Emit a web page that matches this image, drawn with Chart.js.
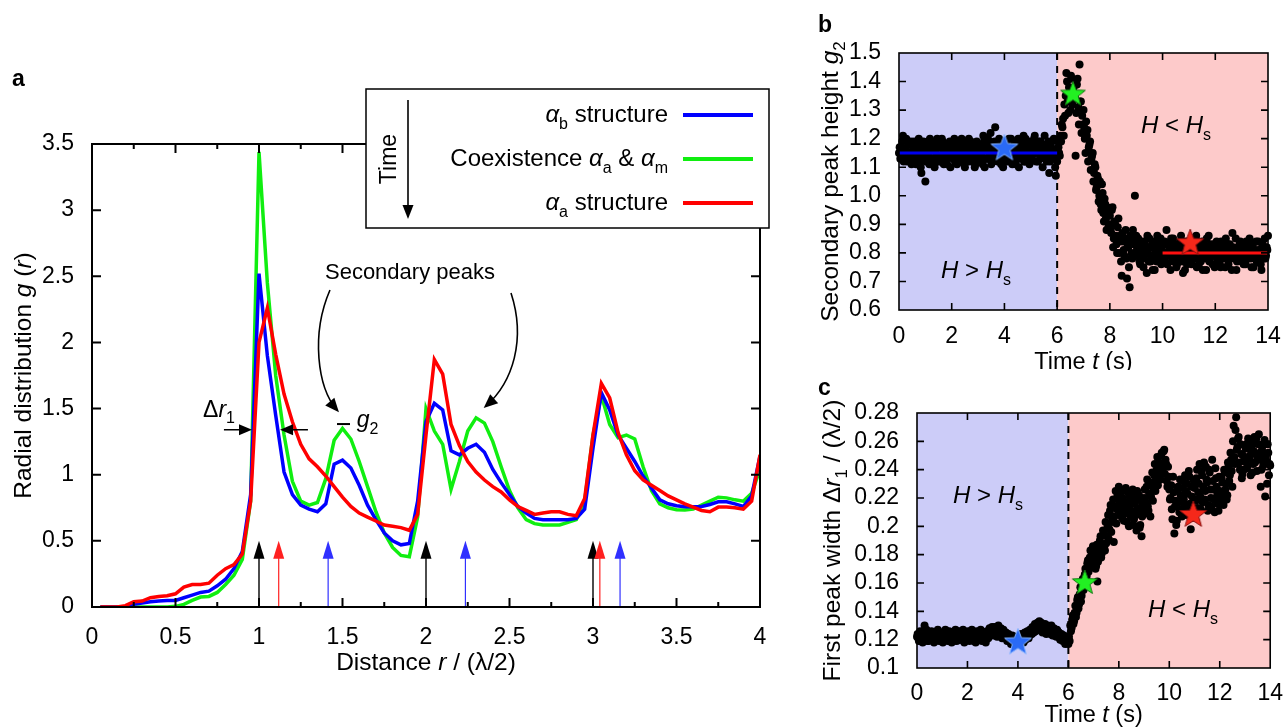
<!DOCTYPE html>
<html>
<head>
<meta charset="utf-8">
<script src="https://cdn.jsdelivr.net/npm/chart.js@4.4.1/dist/chart.umd.min.js"></script>
<style>
  body { margin: 0; background: #fff; width: 1287px; height: 728px; position: relative; overflow: hidden; }
  canvas { position: absolute; }
</style>
</head>
<body>
<canvas id="chartA" width="790" height="690" style="left:0;top:0"></canvas>
<canvas id="chartB" width="487" height="370" style="left:800px;top:0"></canvas>
<canvas id="chartC" width="487" height="358" style="left:800px;top:370px"></canvas>
<script>
// ---- panel a : radial distribution ----
const distance = [
  0.05, 0.10, 0.15, 0.20, 0.25, 0.30, 0.35, 0.40, 0.45, 0.50, 0.55, 0.60, 0.65, 0.70, 0.75, 0.80, 0.85, 0.90, 0.95, 1.00,
  1.05, 1.10, 1.15, 1.20, 1.25, 1.30, 1.35, 1.40, 1.45, 1.50, 1.55, 1.60, 1.65, 1.70, 1.75, 1.80, 1.85, 1.90, 1.95, 2.00,
  2.05, 2.10, 2.15, 2.20, 2.25, 2.30, 2.35, 2.40, 2.45, 2.50, 2.55, 2.60, 2.65, 2.70, 2.75, 2.80, 2.85, 2.90, 2.95, 3.00,
  3.05, 3.10, 3.15, 3.20, 3.25, 3.30, 3.35, 3.40, 3.45, 3.50, 3.55, 3.60, 3.65, 3.70, 3.75, 3.80, 3.85, 3.90, 3.95, 4.00
];
const gAlphaB = [
  0, 0, 0, 0, 0.02, 0.03, 0.04, 0.045, 0.05, 0.05, 0.07, 0.09, 0.11, 0.12, 0.16, 0.21, 0.29, 0.42, 0.85, 2.52,
  1.90, 1.45, 1.02, 0.85, 0.77, 0.74, 0.72, 0.78, 1.08, 1.11, 1.05, 0.92, 0.77, 0.66, 0.56, 0.50, 0.47, 0.48, 0.80, 1.40,
  1.54, 1.49, 1.18, 1.15, 1.20, 1.23, 1.17, 1.04, 0.94, 0.85, 0.76, 0.71, 0.67, 0.66, 0.66, 0.66, 0.66, 0.67, 0.74, 1.20,
  1.62, 1.49, 1.30, 1.20, 1.10, 0.99, 0.90, 0.81, 0.78, 0.765, 0.758, 0.758, 0.76, 0.775, 0.795, 0.795, 0.78, 0.76, 0.84, 1.14
];
const gCoexist = [
  0, 0, 0, 0, 0, 0, 0, 0, 0, 0.005, 0.02, 0.05, 0.075, 0.08, 0.11, 0.17, 0.24, 0.36, 0.80, 3.44,
  2.45, 1.75, 1.30, 0.95, 0.80, 0.77, 0.79, 0.97, 1.26, 1.35, 1.27, 1.10, 0.91, 0.72, 0.56, 0.45, 0.39, 0.38, 0.68, 1.50,
  1.33, 1.23, 0.89, 1.10, 1.33, 1.43, 1.39, 1.25, 1.06, 0.88, 0.75, 0.66, 0.63, 0.62, 0.62, 0.62, 0.64, 0.66, 0.80, 1.30,
  1.60, 1.38, 1.28, 1.30, 1.27, 1.06, 0.88, 0.78, 0.75, 0.735, 0.733, 0.74, 0.77, 0.80, 0.83, 0.825, 0.81, 0.80, 0.86, 1.04
];
const gAlphaA = [
  0, 0, 0, 0.01, 0.04, 0.045, 0.07, 0.08, 0.085, 0.10, 0.15, 0.17, 0.17, 0.18, 0.24, 0.29, 0.32, 0.40, 0.80, 2.00,
  2.26, 1.91, 1.61, 1.40, 1.23, 1.12, 1.06, 0.99, 0.91, 0.83, 0.76, 0.71, 0.68, 0.65, 0.62, 0.61, 0.60, 0.58, 0.70, 1.30,
  1.87, 1.76, 1.38, 1.22, 1.10, 1.02, 0.96, 0.91, 0.87, 0.81, 0.76, 0.73, 0.70, 0.71, 0.72, 0.72, 0.70, 0.69, 0.82, 1.30,
  1.69, 1.58, 1.32, 1.15, 1.03, 0.96, 0.92, 0.88, 0.84, 0.81, 0.78, 0.755, 0.73, 0.72, 0.755, 0.755, 0.75, 0.74, 0.80, 1.15
];
// lattice distances marked by the small arrows
const latticeR = [1.0, 1.118, 1.414, 2.0, 2.236, 3.0, 3.041, 3.162];
const latticeColor = ['#000', '#ff2020', '#3030ff', '#000', '#3030ff', '#000', '#ff2020', '#3030ff'];

// ---- panels b and c : time series ----
// main frames every 0.05 s starting at 0, in-between frames starting at 0.025 s
const frameStep = 0.05;
const peakHeightG2 = [
  1.15, 1.13, 1.17, 1.21, 1.14, 1.16, 1.12, 1.18, 1.15, 1.19, 1.13, 1.16, 1.14, 1.11, 1.17, 1.20, 1.12, 1.08, 1.15, 1.18,
  1.05, 1.14, 1.19, 1.11, 1.16, 1.13, 1.18, 1.10, 1.15, 1.20, 1.12, 1.17, 1.14, 1.19, 1.11, 1.16, 1.13, 1.18, 1.15, 1.10,
  1.17, 1.13, 1.20, 1.14, 1.11, 1.18, 1.15, 1.12, 1.19, 1.16, 1.10, 1.17, 1.13, 1.20, 1.15, 1.12, 1.18, 1.14, 1.11, 1.19,
  1.16, 1.12, 1.18, 1.14, 1.21, 1.10, 1.17, 1.13, 1.19, 1.15, 1.11, 1.18, 1.14, 1.24, 1.16, 1.12, 1.20, 1.13, 1.17, 1.10,
  1.15, 1.19, 1.12, 1.17, 1.14, 1.20, 1.11, 1.16, 1.13, 1.18, 1.15, 1.10, 1.19, 1.14, 1.17, 1.12, 1.20, 1.13, 1.16, 1.11,
  1.18, 1.14, 1.17, 1.21, 1.12, 1.15, 1.19, 1.13, 1.16, 1.10, 1.18, 1.14, 1.12, 1.17, 1.08, 1.15, 1.19, 1.13, 1.16, 1.07,
  1.12, 1.17, 1.14, 1.19, 1.24, 1.21, 1.28, 1.43, 1.33, 1.38, 1.30, 1.41, 1.36, 1.34, 1.14, 1.39, 1.31, 1.46, 1.33, 1.28,
  1.30, 1.20, 1.26, 1.23, 1.17, 1.19, 1.13, 1.15, 1.08, 1.10, 1.03, 1.06, 1.00, 0.97, 1.04, 0.94, 0.99, 0.92, 0.96, 0.89,
  0.93, 0.87, 0.96, 0.85, 0.90, 0.83, 0.89, 0.80, 0.86, 0.72, 0.84, 0.79, 0.88, 0.71, 0.82, 0.68, 0.85, 0.78, 0.83, 1.00,
  0.86, 0.79, 0.83, 0.76, 0.81, 0.84, 0.78, 0.82, 0.73, 0.80, 0.85, 0.77, 0.83, 0.79, 0.74, 0.81, 0.86, 0.78, 0.82, 0.76,
  0.80, 0.83, 0.77, 0.88, 0.79, 0.82, 0.74, 0.81, 0.85, 0.78, 0.80, 0.76, 0.83, 0.79, 0.86, 0.77, 0.81, 0.74, 0.84, 0.80,
  0.78, 0.82, 0.76, 0.85, 0.79, 0.81, 0.75, 0.83, 0.80, 0.77, 0.84, 0.79, 0.82, 0.74, 0.80, 0.86, 0.78, 0.81, 0.76, 0.83,
  0.79, 0.84, 0.77, 0.81, 0.75, 0.82, 0.80, 0.78, 0.85, 0.79, 0.76, 0.83, 0.80, 0.87, 0.78, 0.81, 0.74, 0.82, 0.79, 0.84,
  0.77, 0.80, 0.83, 0.76, 0.81, 0.79, 0.85, 0.78, 0.82, 0.75, 0.80, 0.84, 0.77, 0.81, 0.79, 0.74, 0.83, 0.80, 0.78, 0.82,
  0.86
];
const peakHeightG2Mid = [
  1.17, 1.14, 1.19, 1.12, 1.16, 1.20, 1.13, 1.15, 1.18, 1.11, 1.16, 1.19, 1.12, 1.15, 1.18, 1.13, 1.10, 1.16, 1.19, 1.14,
  1.12, 1.17, 1.15, 1.20, 1.13, 1.18, 1.11, 1.16, 1.19, 1.14, 1.17, 1.12, 1.20, 1.15, 1.13, 1.18, 1.11, 1.16, 1.19, 1.14,
  1.15, 1.18, 1.12, 1.16, 1.19, 1.13, 1.17, 1.20, 1.14, 1.11, 1.18, 1.15, 1.12, 1.17, 1.19, 1.13, 1.16, 1.10, 1.18, 1.15,
  1.13, 1.17, 1.15, 1.11, 1.19, 1.16, 1.13, 1.20, 1.15, 1.22, 1.17, 1.12, 1.19, 1.15, 1.13, 1.18, 1.16, 1.11, 1.19, 1.14,
  1.18, 1.13, 1.16, 1.20, 1.12, 1.17, 1.15, 1.19, 1.11, 1.16, 1.20, 1.13, 1.17, 1.15, 1.21, 1.12, 1.18, 1.14, 1.19, 1.16,
  1.13, 1.17, 1.20, 1.15, 1.18, 1.12, 1.16, 1.19, 1.14, 1.17, 1.21, 1.13, 1.16, 1.19, 1.12, 1.17, 1.14, 1.20, 1.10, 1.15,
  1.19, 1.15, 1.21, 1.25, 1.27, 1.32, 1.35, 1.40, 1.29, 1.36, 1.42, 1.32, 1.38, 1.35, 1.29, 1.41, 1.25, 1.33, 1.22, 1.25,
  1.24, 1.15, 1.21, 1.12, 1.18, 1.09, 1.14, 1.05, 1.11, 1.02, 1.07, 0.98, 1.05, 0.95, 1.01, 0.91, 0.97, 0.88, 0.94, 0.90,
  0.88, 0.95, 0.82, 0.91, 0.86, 0.80, 0.92, 0.84, 0.77, 0.87, 0.81, 0.85, 0.78, 0.83, 0.75, 0.86, 0.80, 0.88, 0.79, 0.84,
  0.81, 0.85, 0.77, 0.82, 0.79, 0.75, 0.83, 0.80, 0.86, 0.77, 0.82, 0.79, 0.74, 0.84, 0.80, 0.77, 0.83, 0.79, 0.85, 0.81,
  0.78, 0.84, 0.80, 0.76, 0.83, 0.79, 0.85, 0.77, 0.81, 0.83, 0.75, 0.82, 0.78, 0.84, 0.80, 0.73, 0.83, 0.79, 0.76, 0.82,
  0.81, 0.77, 0.84, 0.80, 0.78, 0.86, 0.79, 0.76, 0.82, 0.80, 0.74, 0.83, 0.78, 0.85, 0.81, 0.77, 0.83, 0.79, 0.82, 0.75,
  0.82, 0.78, 0.80, 0.76, 0.84, 0.79, 0.82, 0.75, 0.81, 0.83, 0.78, 0.80, 0.74, 0.82, 0.79, 0.85, 0.77, 0.80, 0.83, 0.78,
  0.81, 0.76, 0.79, 0.84, 0.78, 0.82, 0.80, 0.75, 0.83, 0.79, 0.81, 0.77, 0.84, 0.80, 0.76, 0.82, 0.78, 0.85, 0.79, 0.81
];
const peakWidthR1 = [
  0.122, 0.121, 0.123, 0.120, 0.124, 0.122, 0.130, 0.121, 0.123, 0.119, 0.124, 0.122, 0.120, 0.123, 0.121, 0.125, 0.122, 0.120, 0.124, 0.123,
  0.121, 0.125, 0.122, 0.120, 0.124, 0.123, 0.121, 0.125, 0.122, 0.119, 0.123, 0.124, 0.121, 0.122, 0.125, 0.120, 0.123, 0.121, 0.124, 0.122,
  0.120, 0.123, 0.121, 0.124, 0.122, 0.119, 0.123, 0.121, 0.125, 0.122, 0.120, 0.124, 0.123, 0.121, 0.125, 0.122, 0.124, 0.126, 0.123, 0.125,
  0.127, 0.124, 0.126, 0.128, 0.125, 0.127, 0.124, 0.126, 0.123, 0.125, 0.121, 0.124, 0.122, 0.119, 0.121, 0.118, 0.120, 0.117, 0.119, 0.121,
  0.118, 0.120, 0.122, 0.119, 0.121, 0.123, 0.120, 0.122, 0.125, 0.123, 0.126, 0.124, 0.127, 0.129, 0.126, 0.128, 0.131, 0.133, 0.129, 0.127,
  0.130, 0.126, 0.128, 0.125, 0.127, 0.129, 0.124, 0.128, 0.126, 0.123, 0.125, 0.127, 0.122, 0.124, 0.121, 0.123, 0.120, 0.122, 0.119, 0.118,
  0.117, 0.119, 0.126, 0.134, 0.131, 0.139, 0.136, 0.148, 0.142, 0.152, 0.147, 0.160, 0.155, 0.166, 0.162, 0.174, 0.168, 0.178, 0.171, 0.181,
  0.176, 0.184, 0.172, 0.161, 0.180, 0.190, 0.178, 0.186, 0.194, 0.183, 0.188, 0.199, 0.191, 0.211, 0.196, 0.205, 0.189, 0.214, 0.202, 0.222,
  0.228, 0.208, 0.213, 0.220, 0.204, 0.216, 0.209, 0.224, 0.200, 0.218, 0.211, 0.226, 0.205, 0.219, 0.197, 0.213, 0.222, 0.201, 0.193, 0.215,
  0.220, 0.209, 0.228, 0.214, 0.223, 0.207, 0.231, 0.218, 0.236, 0.225, 0.240, 0.229, 0.245, 0.233, 0.252, 0.238, 0.254, 0.247, 0.232, 0.242,
  0.226, 0.220, 0.212, 0.235, 0.195, 0.218, 0.204, 0.228, 0.210, 0.222, 0.207, 0.232, 0.215, 0.225, 0.230, 0.211, 0.235, 0.198, 0.221, 0.213,
  0.227, 0.218, 0.240, 0.224, 0.244, 0.212, 0.236, 0.228, 0.219, 0.242, 0.231, 0.215, 0.238, 0.220, 0.247, 0.226, 0.210, 0.234, 0.222, 0.211,
  0.225, 0.216, 0.231, 0.215, 0.238, 0.230, 0.222, 0.242, 0.236, 0.247, 0.228, 0.271, 0.244, 0.277, 0.256, 0.263, 0.240, 0.251, 0.237, 0.240,
  0.248, 0.258, 0.243, 0.255, 0.250, 0.260, 0.238, 0.253, 0.245, 0.262, 0.248, 0.265, 0.252, 0.240, 0.257, 0.251, 0.221, 0.246, 0.258, 0.236,
  0.243
];
const peakWidthR1Mid = [
  0.124, 0.119, 0.126, 0.122, 0.118, 0.125, 0.121, 0.127, 0.119, 0.124, 0.120, 0.126, 0.122, 0.118, 0.125, 0.121, 0.127, 0.119, 0.123, 0.125,
  0.118, 0.123, 0.127, 0.121, 0.119, 0.126, 0.122, 0.118, 0.125, 0.121, 0.127, 0.119, 0.124, 0.126, 0.120, 0.123, 0.127, 0.118, 0.125, 0.121,
  0.126, 0.119, 0.124, 0.127, 0.121, 0.125, 0.118, 0.126, 0.120, 0.124, 0.127, 0.119, 0.125, 0.122, 0.118, 0.126, 0.121, 0.128, 0.124, 0.129,
  0.123, 0.129, 0.125, 0.122, 0.130, 0.123, 0.128, 0.121, 0.127, 0.122, 0.125, 0.119, 0.124, 0.121, 0.117, 0.123, 0.119, 0.121, 0.122, 0.118,
  0.121, 0.117, 0.124, 0.121, 0.118, 0.125, 0.123, 0.126, 0.121, 0.127, 0.124, 0.129, 0.125, 0.131, 0.128, 0.132, 0.127, 0.130, 0.132, 0.125,
  0.127, 0.131, 0.124, 0.130, 0.129, 0.125, 0.130, 0.123, 0.128, 0.127, 0.122, 0.126, 0.125, 0.120, 0.124, 0.119, 0.123, 0.117, 0.121, 0.120,
  0.122, 0.130, 0.128, 0.137, 0.133, 0.144, 0.139, 0.150, 0.145, 0.157, 0.151, 0.163, 0.158, 0.170, 0.165, 0.176, 0.173, 0.183, 0.175, 0.186,
  0.179, 0.170, 0.187, 0.175, 0.184, 0.193, 0.181, 0.197, 0.186, 0.203, 0.193, 0.208, 0.198, 0.215, 0.203, 0.219, 0.207, 0.225, 0.212, 0.219,
  0.215, 0.224, 0.206, 0.218, 0.211, 0.227, 0.203, 0.214, 0.221, 0.207, 0.223, 0.201, 0.216, 0.208, 0.225, 0.211, 0.199, 0.218, 0.207, 0.212,
  0.226, 0.217, 0.233, 0.211, 0.229, 0.221, 0.238, 0.227, 0.244, 0.232, 0.249, 0.236, 0.243, 0.250, 0.241, 0.253, 0.237, 0.244, 0.228, 0.235,
  0.219, 0.229, 0.205, 0.224, 0.214, 0.201, 0.226, 0.217, 0.233, 0.212, 0.227, 0.219, 0.236, 0.208, 0.223, 0.239, 0.216, 0.228, 0.206, 0.232,
  0.219, 0.234, 0.213, 0.230, 0.221, 0.239, 0.217, 0.245, 0.225, 0.233, 0.211, 0.240, 0.226, 0.214, 0.232, 0.219, 0.241, 0.228, 0.216, 0.235,
  0.218, 0.234, 0.221, 0.240, 0.226, 0.219, 0.245, 0.232, 0.252, 0.239, 0.260, 0.249, 0.268, 0.254, 0.262, 0.245, 0.258, 0.234, 0.250, 0.246,
  0.255, 0.241, 0.262, 0.248, 0.236, 0.257, 0.244, 0.263, 0.251, 0.239, 0.258, 0.247, 0.228, 0.254, 0.243, 0.261, 0.249, 0.230, 0.252, 0.244
];
const switchTime = 6;          // field drops below H_s here
const g2Fits = [[0, 6, 1.15], [10, 14, 0.80]];   // [t start, t end, mean]
const starTimesB = [4.0, 6.6, 11.05];
const starG2 = [1.166, 1.355, 0.834];
const starTimesC = [4.0, 6.65, 10.95];
const starWidth = [0.118, 0.160, 0.208];

const FONT = '"Liberation Sans", Arial, Helvetica, sans-serif';
const BLUE_BG = '#ccccf8';
const RED_BG = '#fdcaca';

// ---- text helpers (mixed italic / subscript) ----
function fontOf(p, size) {
  const s = p.sub ? Math.round(size * 0.68) : size;
  return (p.it ? 'italic ' : '') + s + 'px ' + FONT;
}
function richWidth(ctx, parts, size) {
  let w = 0;
  parts.forEach(p => { ctx.font = fontOf(p, size); w += ctx.measureText(p.t).width; });
  return w;
}
function drawRich(ctx, parts, x, y, size, align, rot) {
  ctx.save();
  ctx.translate(x, y);
  if (rot) ctx.rotate(rot);
  const w = richWidth(ctx, parts, size);
  let cx = align === 'center' ? -w / 2 : align === 'right' ? -w : 0;
  ctx.textAlign = 'left';
  ctx.textBaseline = 'alphabetic';
  ctx.fillStyle = '#000';
  parts.forEach(p => {
    ctx.font = fontOf(p, size);
    ctx.fillText(p.t, cx, p.sub ? size * 0.28 : 0);
    cx += ctx.measureText(p.t).width;
  });
  ctx.restore();
}
function arrowHead(ctx, x, y, ang, len, half) {
  ctx.beginPath();
  ctx.moveTo(x, y);
  ctx.lineTo(x - len * Math.cos(ang) + half * Math.sin(ang), y - len * Math.sin(ang) - half * Math.cos(ang));
  ctx.lineTo(x - len * Math.cos(ang) - half * Math.sin(ang), y - len * Math.sin(ang) + half * Math.cos(ang));
  ctx.closePath();
  ctx.fill();
}

// box round the plot with inward ticks on all four sides
function drawFrame(chart, lw, xMajor, xMinor, yLen) {
  const { ctx, chartArea: a, scales: { x, y } } = chart;
  ctx.save();
  ctx.strokeStyle = '#000';
  ctx.lineWidth = lw;
  ctx.strokeRect(a.left, a.top, a.right - a.left, a.bottom - a.top);
  ctx.beginPath();
  x.ticks.forEach(t => {
    const px = x.getPixelForValue(t.value);
    if (px <= a.left + 1 || px >= a.right - 1) return;
    const len = t.label === '' ? xMinor : xMajor;
    ctx.moveTo(px, a.bottom); ctx.lineTo(px, a.bottom - len);
    ctx.moveTo(px, a.top); ctx.lineTo(px, a.top + len);
  });
  y.ticks.forEach(t => {
    const py = y.getPixelForValue(t.value);
    if (py <= a.top + 1 || py >= a.bottom - 1) return;
    ctx.moveTo(a.left, py); ctx.lineTo(a.left + yLen, py);
    ctx.moveTo(a.right, py); ctx.lineTo(a.right - yLen, py);
  });
  ctx.stroke();
  ctx.restore();
}

function makeStar(fill, stroke, r) {
  const c = document.createElement('canvas');
  c.width = c.height = 2 * r + 4;
  const g = c.getContext('2d');
  g.beginPath();
  for (let i = 0; i < 10; i++) {
    const ang = -Math.PI / 2 + i * Math.PI / 5;
    const rad = i % 2 ? r * 0.42 : r;
    g.lineTo(r + 2 + rad * Math.cos(ang), r + 2 + rad * Math.sin(ang));
  }
  g.closePath();
  g.fillStyle = fill; g.fill();
  g.lineWidth = 1; g.strokeStyle = stroke; g.stroke();
  return c;
}
const starImgs = [makeStar('#2a6af5', '#86b4ff', 14), makeStar('#22f022', '#137a13', 13), makeStar('#f5281a', '#8c1010', 14)];

const tickFont = { family: FONT, size: 23 };

// ---------- panel a ----------
const legendRows = [
  [{ t: 'α', it: true }, { t: 'b', sub: true }, { t: ' structure' }],
  [{ t: 'Coexistence ' }, { t: 'α', it: true }, { t: 'a', sub: true }, { t: ' & ' }, { t: 'α', it: true }, { t: 'm', sub: true }],
  [{ t: 'α', it: true }, { t: 'a', sub: true }, { t: ' structure' }]
];

const panelA = {
  id: 'panelA',
  beforeDatasetsDraw(chart) {
    const { ctx, scales: { x, y } } = chart;
    ctx.save();
    latticeR.forEach((r, i) => {
      const px = x.getPixelForValue(r);
      ctx.strokeStyle = latticeColor[i];
      ctx.fillStyle = latticeColor[i];
      ctx.lineWidth = latticeColor[i] === '#000' ? 1.4 : 1.2;
      ctx.beginPath();
      ctx.moveTo(px, y.getPixelForValue(0));
      ctx.lineTo(px, y.getPixelForValue(0.38));
      ctx.stroke();
      ctx.beginPath();
      ctx.moveTo(px, y.getPixelForValue(0.5));
      ctx.lineTo(px - 5.5, y.getPixelForValue(0.365));
      ctx.lineTo(px + 5.5, y.getPixelForValue(0.365));
      ctx.closePath();
      ctx.fill();
    });
    ctx.restore();
  },
  afterDraw(chart) {
    const { ctx, scales: { x, y } } = chart;
    drawFrame(chart, 2, 9, 5, 9);
    ctx.save();
    ctx.fillStyle = '#000';
    ctx.strokeStyle = '#000';

    // Δr1 arrows
    ctx.lineWidth = 1.6;
    const ay = y.getPixelForValue(1.34);
    ctx.beginPath();
    ctx.moveTo(x.getPixelForValue(0.79), ay); ctx.lineTo(x.getPixelForValue(0.90), ay);
    ctx.moveTo(x.getPixelForValue(1.293), ay); ctx.lineTo(x.getPixelForValue(1.19), ay);
    ctx.stroke();
    arrowHead(ctx, x.getPixelForValue(0.958), ay, 0, 13, 5.5);
    arrowHead(ctx, x.getPixelForValue(1.126), ay, Math.PI, 13, 5.5);
    drawRich(ctx, [{ t: 'Δ' }, { t: 'r', it: true }, { t: '1', sub: true }], x.getPixelForValue(0.665), y.getPixelForValue(1.436), 23, 'left');

    // g2 marker
    ctx.lineWidth = 2;
    ctx.beginPath();
    ctx.moveTo(x.getPixelForValue(1.467), y.getPixelForValue(1.383));
    ctx.lineTo(x.getPixelForValue(1.545), y.getPixelForValue(1.383));
    ctx.stroke();
    drawRich(ctx, [{ t: 'g', it: true }, { t: '2', sub: true }], x.getPixelForValue(1.585), y.getPixelForValue(1.36), 23, 'left');

    // secondary peaks + curved arrows
    drawRich(ctx, [{ t: 'Secondary peaks' }], x.getPixelForValue(1.904), y.getPixelForValue(2.48), 22, 'center');
    ctx.lineWidth = 1.6;
    const curves = [
      [[1.425, 2.396], [1.31, 2.06], [1.35, 1.66], [1.467, 1.489]],
      [[2.509, 2.373], [2.60, 2.02], [2.52, 1.70], [2.359, 1.519]]
    ];
    curves.forEach(c => {
      const p = c.map(q => [x.getPixelForValue(q[0]), y.getPixelForValue(q[1])]);
      ctx.beginPath();
      ctx.moveTo(p[0][0], p[0][1]);
      ctx.bezierCurveTo(p[1][0], p[1][1], p[2][0], p[2][1], p[3][0], p[3][1]);
      ctx.stroke();
      const ang = Math.atan2(p[3][1] - p[2][1], p[3][0] - p[2][0]);
      arrowHead(ctx, p[3][0] + 3 * Math.cos(ang), p[3][1] + 3 * Math.sin(ang), ang, 14, 6);
    });

    // legend box
    ctx.fillStyle = '#fff';
    ctx.fillRect(366, 89, 403, 139);
    ctx.lineWidth = 1.5;
    ctx.strokeRect(366, 89, 403, 139);
    ctx.fillStyle = '#000';
    drawRich(ctx, [{ t: 'Time' }], 396, 159, 23, 'center', -Math.PI / 2);
    ctx.lineWidth = 1.6;
    ctx.beginPath(); ctx.moveTo(408, 100); ctx.lineTo(408, 208); ctx.stroke();
    arrowHead(ctx, 408, 219, Math.PI / 2, 14, 5.5);
    const rowBase = [122, 166, 210];
    const rowLine = [115, 159, 203];
    const order = [1, 2, 0];   // legend lists blue, green, red
    legendRows.forEach((parts, i) => {
      drawRich(ctx, parts, 668, rowBase[i], 24, 'right');
      ctx.strokeStyle = chart.data.datasets[order[i]].borderColor;
      ctx.lineWidth = 4;
      ctx.beginPath(); ctx.moveTo(683, rowLine[i]); ctx.lineTo(753, rowLine[i]); ctx.stroke();
    });

    // titles
    ctx.fillStyle = '#000';
    ctx.font = 'bold 23px ' + FONT;
    ctx.textAlign = 'left';
    ctx.fillText('a', 12, 86);
    drawRich(ctx, [{ t: 'Radial distribution ' }, { t: 'g', it: true }, { t: ' (' }, { t: 'r', it: true }, { t: ')' }],
      31, (chart.chartArea.top + chart.chartArea.bottom) / 2, 24.5, 'center', -Math.PI / 2);
    drawRich(ctx, [{ t: 'Distance ' }, { t: 'r', it: true }, { t: ' / (λ/2)' }],
      (chart.chartArea.left + chart.chartArea.right) / 2, 670, 24.5, 'center');
    ctx.restore();
  }
};

// Chart.js paints dataset 0 last, so red goes first to end up on top
const lineStyle = { pointRadius: 0, borderWidth: 3.5, tension: 0, fill: false };
new Chart(document.getElementById('chartA'), {
  type: 'line',
  data: {
    datasets: [
      { label: 'alpha_a', data: distance.map((r, i) => ({ x: r, y: gAlphaA[i] })), borderColor: '#ff0000', ...lineStyle },
      { label: 'alpha_b', data: distance.map((r, i) => ({ x: r, y: gAlphaB[i] })), borderColor: '#0000ff', ...lineStyle },
      { label: 'Coexistence', data: distance.map((r, i) => ({ x: r, y: gCoexist[i] })), borderColor: '#10ee10', ...lineStyle }
    ]
  },
  options: {
    responsive: false, animation: false, devicePixelRatio: 1, events: [],
    layout: { padding: { top: 144, right: 30, left: 0, bottom: 0 } },
    plugins: { legend: { display: false }, tooltip: { enabled: false } },
    scales: {
      x: {
        type: 'linear', min: 0, max: 4,
        grid: { display: false }, border: { display: false },
        afterFit: s => { s.height = 83; },
        ticks: { stepSize: 0.25, autoSkip: false, maxRotation: 0, color: '#000', font: tickFont, padding: 9,
          callback: v => (v * 2) % 1 === 0 ? String(v) : '' }
      },
      y: {
        min: 0, max: 3.5,
        grid: { display: false }, border: { display: false },
        afterFit: s => { s.width = 92; },
        ticks: { stepSize: 0.5, autoSkip: false, color: '#000', font: tickFont, padding: 10, callback: v => String(v) }
      }
    }
  },
  plugins: [panelA]
});

// ---------- panels b and c ----------
function cloud(main, mid) {
  const pts = main.map((v, i) => ({ x: i * frameStep, y: v }));
  mid.forEach((v, i) => pts.push({ x: i * frameStep + frameStep / 2, y: v }));
  return pts;
}

function phasePlugin(opts) {
  return {
    id: 'phase',
    beforeDatasetsDraw(chart) {
      const { ctx, chartArea: a, scales: { x } } = chart;
      const xs = x.getPixelForValue(switchTime);
      ctx.save();
      ctx.fillStyle = BLUE_BG;
      ctx.fillRect(a.left, a.top, xs - a.left, a.bottom - a.top);
      ctx.fillStyle = RED_BG;
      ctx.fillRect(xs, a.top, a.right - xs, a.bottom - a.top);
      ctx.strokeStyle = '#000';
      ctx.lineWidth = 2;
      ctx.setLineDash([7, 6]);
      ctx.beginPath(); ctx.moveTo(xs, a.top); ctx.lineTo(xs, a.bottom); ctx.stroke();
      ctx.restore();
    },
    afterDraw(chart) {
      const { ctx, chartArea: a } = chart;
      drawFrame(chart, 1.6, 7, 7, 7);
      ctx.save();
      ctx.fillStyle = '#000';
      ctx.font = 'bold 23px ' + FONT;
      ctx.textAlign = 'left';
      ctx.fillText(opts.letter, 18, opts.letterY);
      drawRich(ctx, opts.yTitle, opts.yTitleX, (a.top + a.bottom) / 2, 24.5, 'center', -Math.PI / 2);
      drawRich(ctx, [{ t: 'Time ' }, { t: 't', it: true }, { t: ' (s)' }], (a.left + a.right) / 2, opts.xTitleY, 23.5, 'center');
      const hs = (sym) => [{ t: 'H', it: true }, { t: ' ' + sym + ' ' }, { t: 'H', it: true }, { t: 's', sub: true }];
      drawRich(ctx, hs('>'), opts.above[0], opts.above[1], 24, 'center');
      drawRich(ctx, hs('<'), opts.below[0], opts.below[1], 24, 'center');
      ctx.restore();
    }
  };
}

function timeChart(id, points, fits, starT, starV, yOpts, layout, opts) {
  // stars first, then fit lines, then the cloud (dataset 0 is painted last)
  const datasets = [];
  starT.forEach((t, i) => datasets.push({
    data: [{ x: t, y: starV[i] }], pointStyle: starImgs[i], pointRadius: 14, clip: false
  }));
  fits.forEach((f, i) => datasets.push({
    data: [{ x: f[0], y: f[2] }, { x: f[1], y: f[2] }], showLine: true, pointRadius: 0,
    borderColor: i === 0 ? '#0000f0' : '#ff1010', borderWidth: 3
  }));
  datasets.push({ data: points, pointRadius: 4, backgroundColor: '#000', borderWidth: 0, clip: false });
  new Chart(document.getElementById(id), {
    type: 'scatter',
    data: { datasets },
    options: {
      responsive: false, animation: false, devicePixelRatio: 1, events: [],
      layout: { padding: layout.padding },
      plugins: { legend: { display: false }, tooltip: { enabled: false } },
      scales: {
        x: {
          type: 'linear', min: 0, max: 14,
          grid: { display: false }, border: { display: false },
          afterFit: s => { s.height = layout.xh; },
          ticks: { stepSize: 2, autoSkip: false, color: '#000', font: tickFont, padding: layout.xpad, maxRotation: 0 }
        },
        y: Object.assign({
          grid: { display: false }, border: { display: false },
          afterFit: s => { s.width = layout.yw; }
        }, yOpts)
      }
    },
    plugins: [phasePlugin(opts)]
  });
}

timeChart('chartB', cloud(peakHeightG2, peakHeightG2Mid), g2Fits, starTimesB, starG2,
  { min: 0.6, max: 1.5, ticks: { stepSize: 0.1, autoSkip: false, color: '#000', font: tickFont, padding: 10, callback: v => v.toFixed(1) } },
  { padding: { top: 53, right: 19, left: 0, bottom: 0 }, xh: 60, yw: 99, xpad: 5 },
  { letter: 'b', letterY: 32, yTitle: [{ t: 'Secondary peak height ' }, { t: 'g', it: true }, { t: '2', sub: true }],
    yTitleX: 38, xTitleY: 369, above: [176, 278], below: [376, 133] });

timeChart('chartC', cloud(peakWidthR1, peakWidthR1Mid), [], starTimesC, starWidth,
  { min: 0.1, max: 0.28, ticks: { stepSize: 0.02, autoSkip: false, color: '#000', font: tickFont, padding: 10, callback: v => String(+v.toFixed(2)) } },
  { padding: { top: 43, right: 14, left: 0, bottom: 0 }, xh: 60, yw: 117, xpad: 4 },
  { letter: 'c', letterY: 25, yTitle: [{ t: 'First peak width ' }, { t: 'Δ' }, { t: 'r', it: true }, { t: '1', sub: true }, { t: ' / (λ/2)' }],
    yTitleX: 40, xTitleY: 352, above: [188, 133], below: [383, 247] });
</script>
</body>
</html>
